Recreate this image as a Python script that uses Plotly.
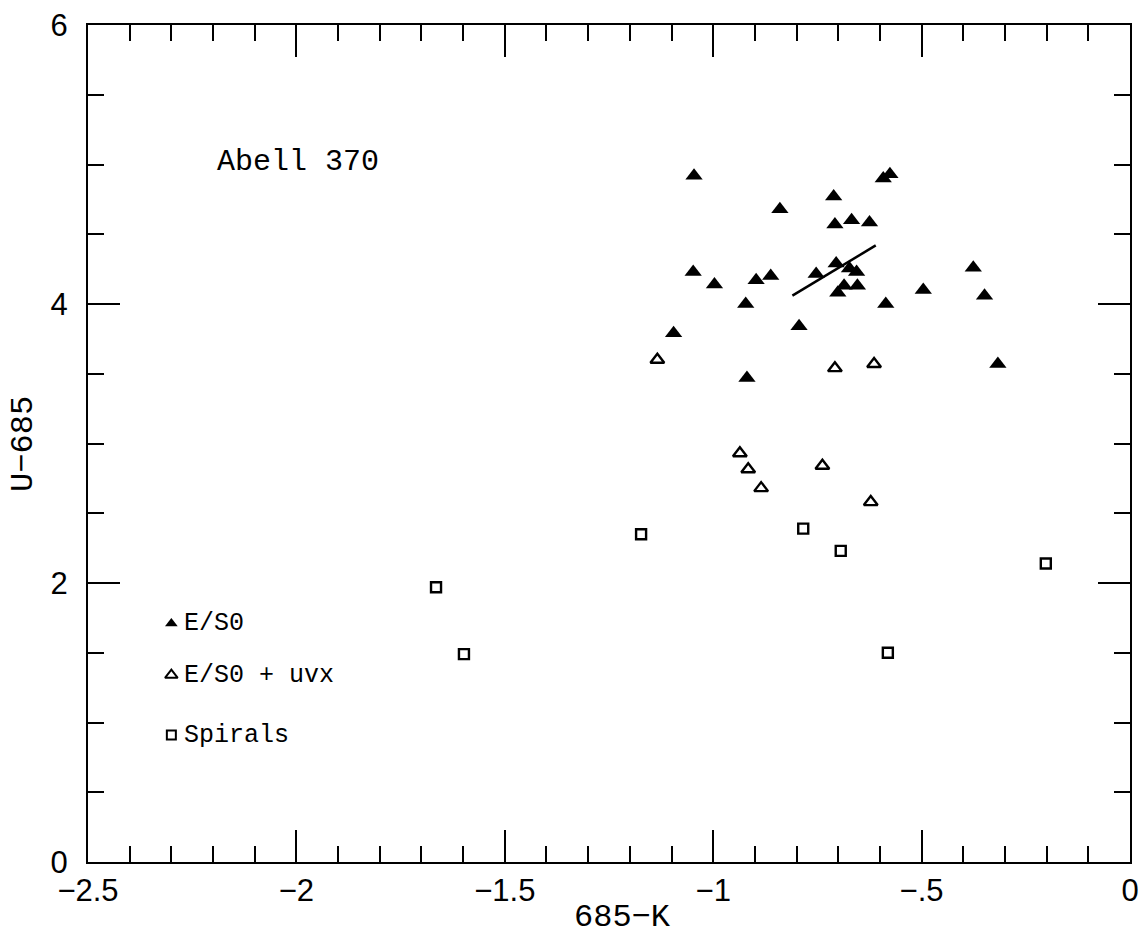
import plotly.graph_objects as go

# E/S0 (filled triangles)
es0_x = [-1.046, -0.592, -0.576, -0.711, -0.840, -0.708, -0.668, -0.625, -0.705, -0.673,
         -0.656, -0.753, -1.048, -0.997, -0.897, -0.862, -0.376, -0.686, -0.654, -0.701,
         -0.496, -0.349, -0.922, -0.586, -0.794, -1.095, -0.919, -0.317]
es0_y = [4.92, 4.90, 4.93, 4.77, 4.68, 4.57, 4.60, 4.585, 4.29, 4.255,
         4.23, 4.215, 4.23, 4.14, 4.17, 4.20, 4.26, 4.13, 4.13, 4.08,
         4.10, 4.06, 4.00, 4.00, 3.84, 3.79, 3.47, 3.57]

# E/S0 + uvx (open triangles)
uvx_x = [-1.134, -0.708, -0.614, -0.936, -0.916, -0.885, -0.738, -0.622]
uvx_y = [3.60, 3.54, 3.57, 2.93, 2.815, 2.68, 2.84, 2.58]

# Spirals (open squares)
sp_x = [-1.173, -0.784, -0.694, -1.665, -1.598, -0.581, -0.202]
sp_y = [2.35, 2.39, 2.23, 1.97, 1.49, 1.50, 2.14]

# fitted line
line_x = [-0.81, -0.61]
line_y = [4.06, 4.42]

legend_labels = ["E/S0", "E/S0 + uvx", "Spirals"]
legend_symbols = ["triangle-up", "triangle-up-open", "square-open"]

x_tickvals = [-2.5, -2, -1.5, -1, -0.5, 0]
x_ticktext = ["\u22122.5", "\u22122", "\u22121.5", "\u22121", "\u2212.5", "0"]
y_tickvals = [0, 2, 4, 6]

MONO = "Liberation Mono"

fig = go.Figure()
fig.add_trace(go.Scatter(x=es0_x, y=es0_y, mode="markers",
                         marker=dict(symbol="triangle-up", size=15, color="black",
                                     line=dict(width=0)), showlegend=False))
fig.add_trace(go.Scatter(x=uvx_x, y=uvx_y, mode="markers",
                         marker=dict(symbol="triangle-up-open", size=12, color="black",
                                     line=dict(width=2.4)), showlegend=False))
fig.add_trace(go.Scatter(x=sp_x, y=sp_y, mode="markers",
                         marker=dict(symbol="square-open", size=10, color="black",
                                     line=dict(width=2.4)), showlegend=False))
fig.add_trace(go.Scatter(x=line_x, y=line_y, mode="lines",
                         line=dict(color="black", width=2.5), showlegend=False))

# custom legend
leg_x = -2.30
leg_y = [1.71, 1.34, 0.91]
for lab, sym, ly in zip(legend_labels, legend_symbols, leg_y):
    fig.add_trace(go.Scatter(x=[leg_x], y=[ly], mode="markers",
                             marker=dict(symbol=sym, size=11 if sym != "square-open" else 9,
                                         color="black", line=dict(width=2 if "open" in sym else 0)),
                             showlegend=False))
    fig.add_annotation(x=leg_x + 0.026, y=ly, text=lab, showarrow=False, xanchor="left",
                       yanchor="middle",
                       font=dict(family=MONO, size=25, color="black"))

fig.add_annotation(x=-2.195, y=5.02, text="Abell 370", showarrow=False, xanchor="left",
                   yanchor="middle", font=dict(family=MONO, size=30, color="black"))

# axis titles
fig.add_annotation(xref="paper", yref="paper", x=0.5125, y=-0.066, text="685\u2212K",
                   showarrow=False, xanchor="center", yanchor="middle",
                   font=dict(family=MONO, size=32, color="black"))
fig.add_annotation(xref="paper", yref="paper", x=-0.062, y=0.5, text="U\u2212685",
                   showarrow=False, xanchor="center", yanchor="middle", textangle=-90,
                   font=dict(family=MONO, size=32, color="black"))

fig.update_xaxes(range=[-2.5, 0], tickvals=x_tickvals, ticktext=x_ticktext,
                 ticks="inside", ticklen=32, tickwidth=1.5, tickcolor="black",
                 minor=dict(dtick=0.1, ticks="inside", ticklen=16, tickwidth=1.5, tickcolor="black"),
                 showline=True, linecolor="black", linewidth=2, mirror="ticks",
                 showgrid=False, zeroline=False, automargin=False,
                 tickfont=dict(family="Liberation Sans", size=31, color="black"))
fig.update_yaxes(range=[0, 6], tickvals=y_tickvals,
                 ticks="inside", ticklen=32, tickwidth=1.5, tickcolor="black",
                 minor=dict(dtick=0.5, ticks="inside", ticklen=16, tickwidth=1.5, tickcolor="black"),
                 showline=True, linecolor="black", linewidth=2, mirror="ticks",
                 showgrid=False, zeroline=False, automargin=False, ticklabelstandoff=12,
                 tickfont=dict(family="Liberation Sans", size=31, color="black"))

fig.update_layout(width=1143, height=939, plot_bgcolor="white", paper_bgcolor="white",
                  margin=dict(l=88, r=13, t=25, b=77), showlegend=False)

fig.write_html("out.html")
